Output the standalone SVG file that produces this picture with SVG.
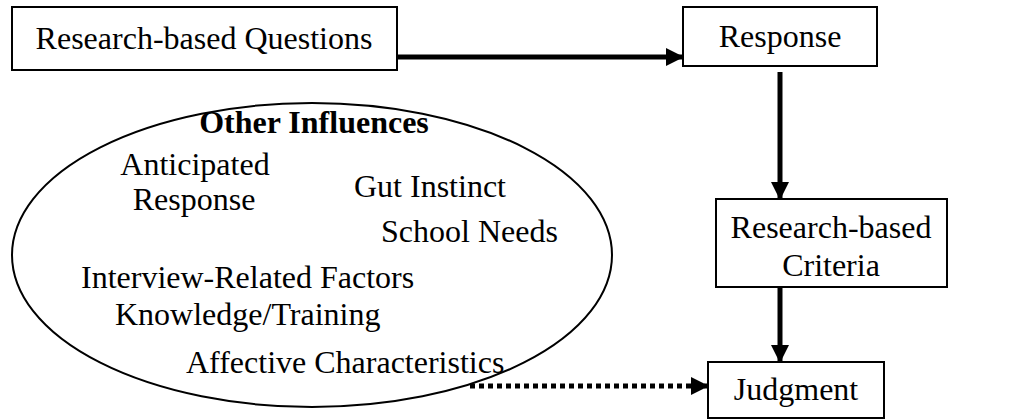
<svg xmlns="http://www.w3.org/2000/svg" width="1018" height="420" viewBox="0 0 1018 420">
  <style>
    .box { fill: #fff; stroke: #000; stroke-width: 2; }
    .t { font-family: "Liberation Serif", "Times New Roman", serif; font-size: 32px; fill: #000; }
    .b { font-weight: bold; }
    .c { text-anchor: middle; }
    .conn { stroke: #000; stroke-width: 5; fill: none; }
    .dot { stroke-dasharray: 5 4; }
  </style>
  <defs>
    <marker id="ah" markerUnits="userSpaceOnUse" markerWidth="18" markerHeight="18" refX="17" refY="9" orient="auto" viewBox="0 0 18 18">
      <polygon points="0,0 18,9 0,18" fill="#000"/>
    </marker>
  </defs>
  <rect width="1018" height="420" fill="#fff"/>

  <g id="influences">
    <ellipse cx="312" cy="255" rx="300" ry="152" fill="none" stroke="#000" stroke-width="2"/>
    <text class="t b c" x="314" y="133">Other Influences</text>
    <text class="t c" x="195" y="175">Anticipated</text>
    <text class="t c" x="194" y="210">Response</text>
    <text class="t" x="354" y="197">Gut Instinct</text>
    <text class="t" x="381" y="242">School Needs</text>
    <text class="t" x="81" y="288">Interview-Related Factors</text>
    <text class="t" x="115" y="325">Knowledge/Training</text>
    <text class="t" x="186" y="373">Affective Characteristics</text>
  </g>

  <g id="questions">
    <rect class="box" x="12" y="7" width="385" height="63"/>
    <text class="t c" x="204" y="49">Research-based Questions</text>
  </g>

  <g id="response">
    <rect class="box" x="683" y="7" width="194" height="59"/>
    <text class="t c" x="780" y="47">Response</text>
  </g>

  <g id="criteria">
    <rect class="box" x="716" y="199" width="231" height="88"/>
    <text class="t c" x="831" y="238">Research-based</text>
    <text class="t c" x="831" y="276">Criteria</text>
  </g>

  <g id="judgment">
    <rect class="box" x="708" y="362" width="176" height="56"/>
    <text class="t c" x="796" y="400">Judgment</text>
  </g>

  <g id="connectors">
    <line class="conn" x1="397" y1="57" x2="683" y2="57" marker-end="url(#ah)"/>
    <line class="conn" x1="780" y1="72" x2="780" y2="199" marker-end="url(#ah)"/>
    <line class="conn" x1="780" y1="287" x2="780" y2="362" marker-end="url(#ah)"/>
    <line class="conn dot" x1="470" y1="386" x2="708" y2="386" marker-end="url(#ah)"/>
  </g>
</svg>
